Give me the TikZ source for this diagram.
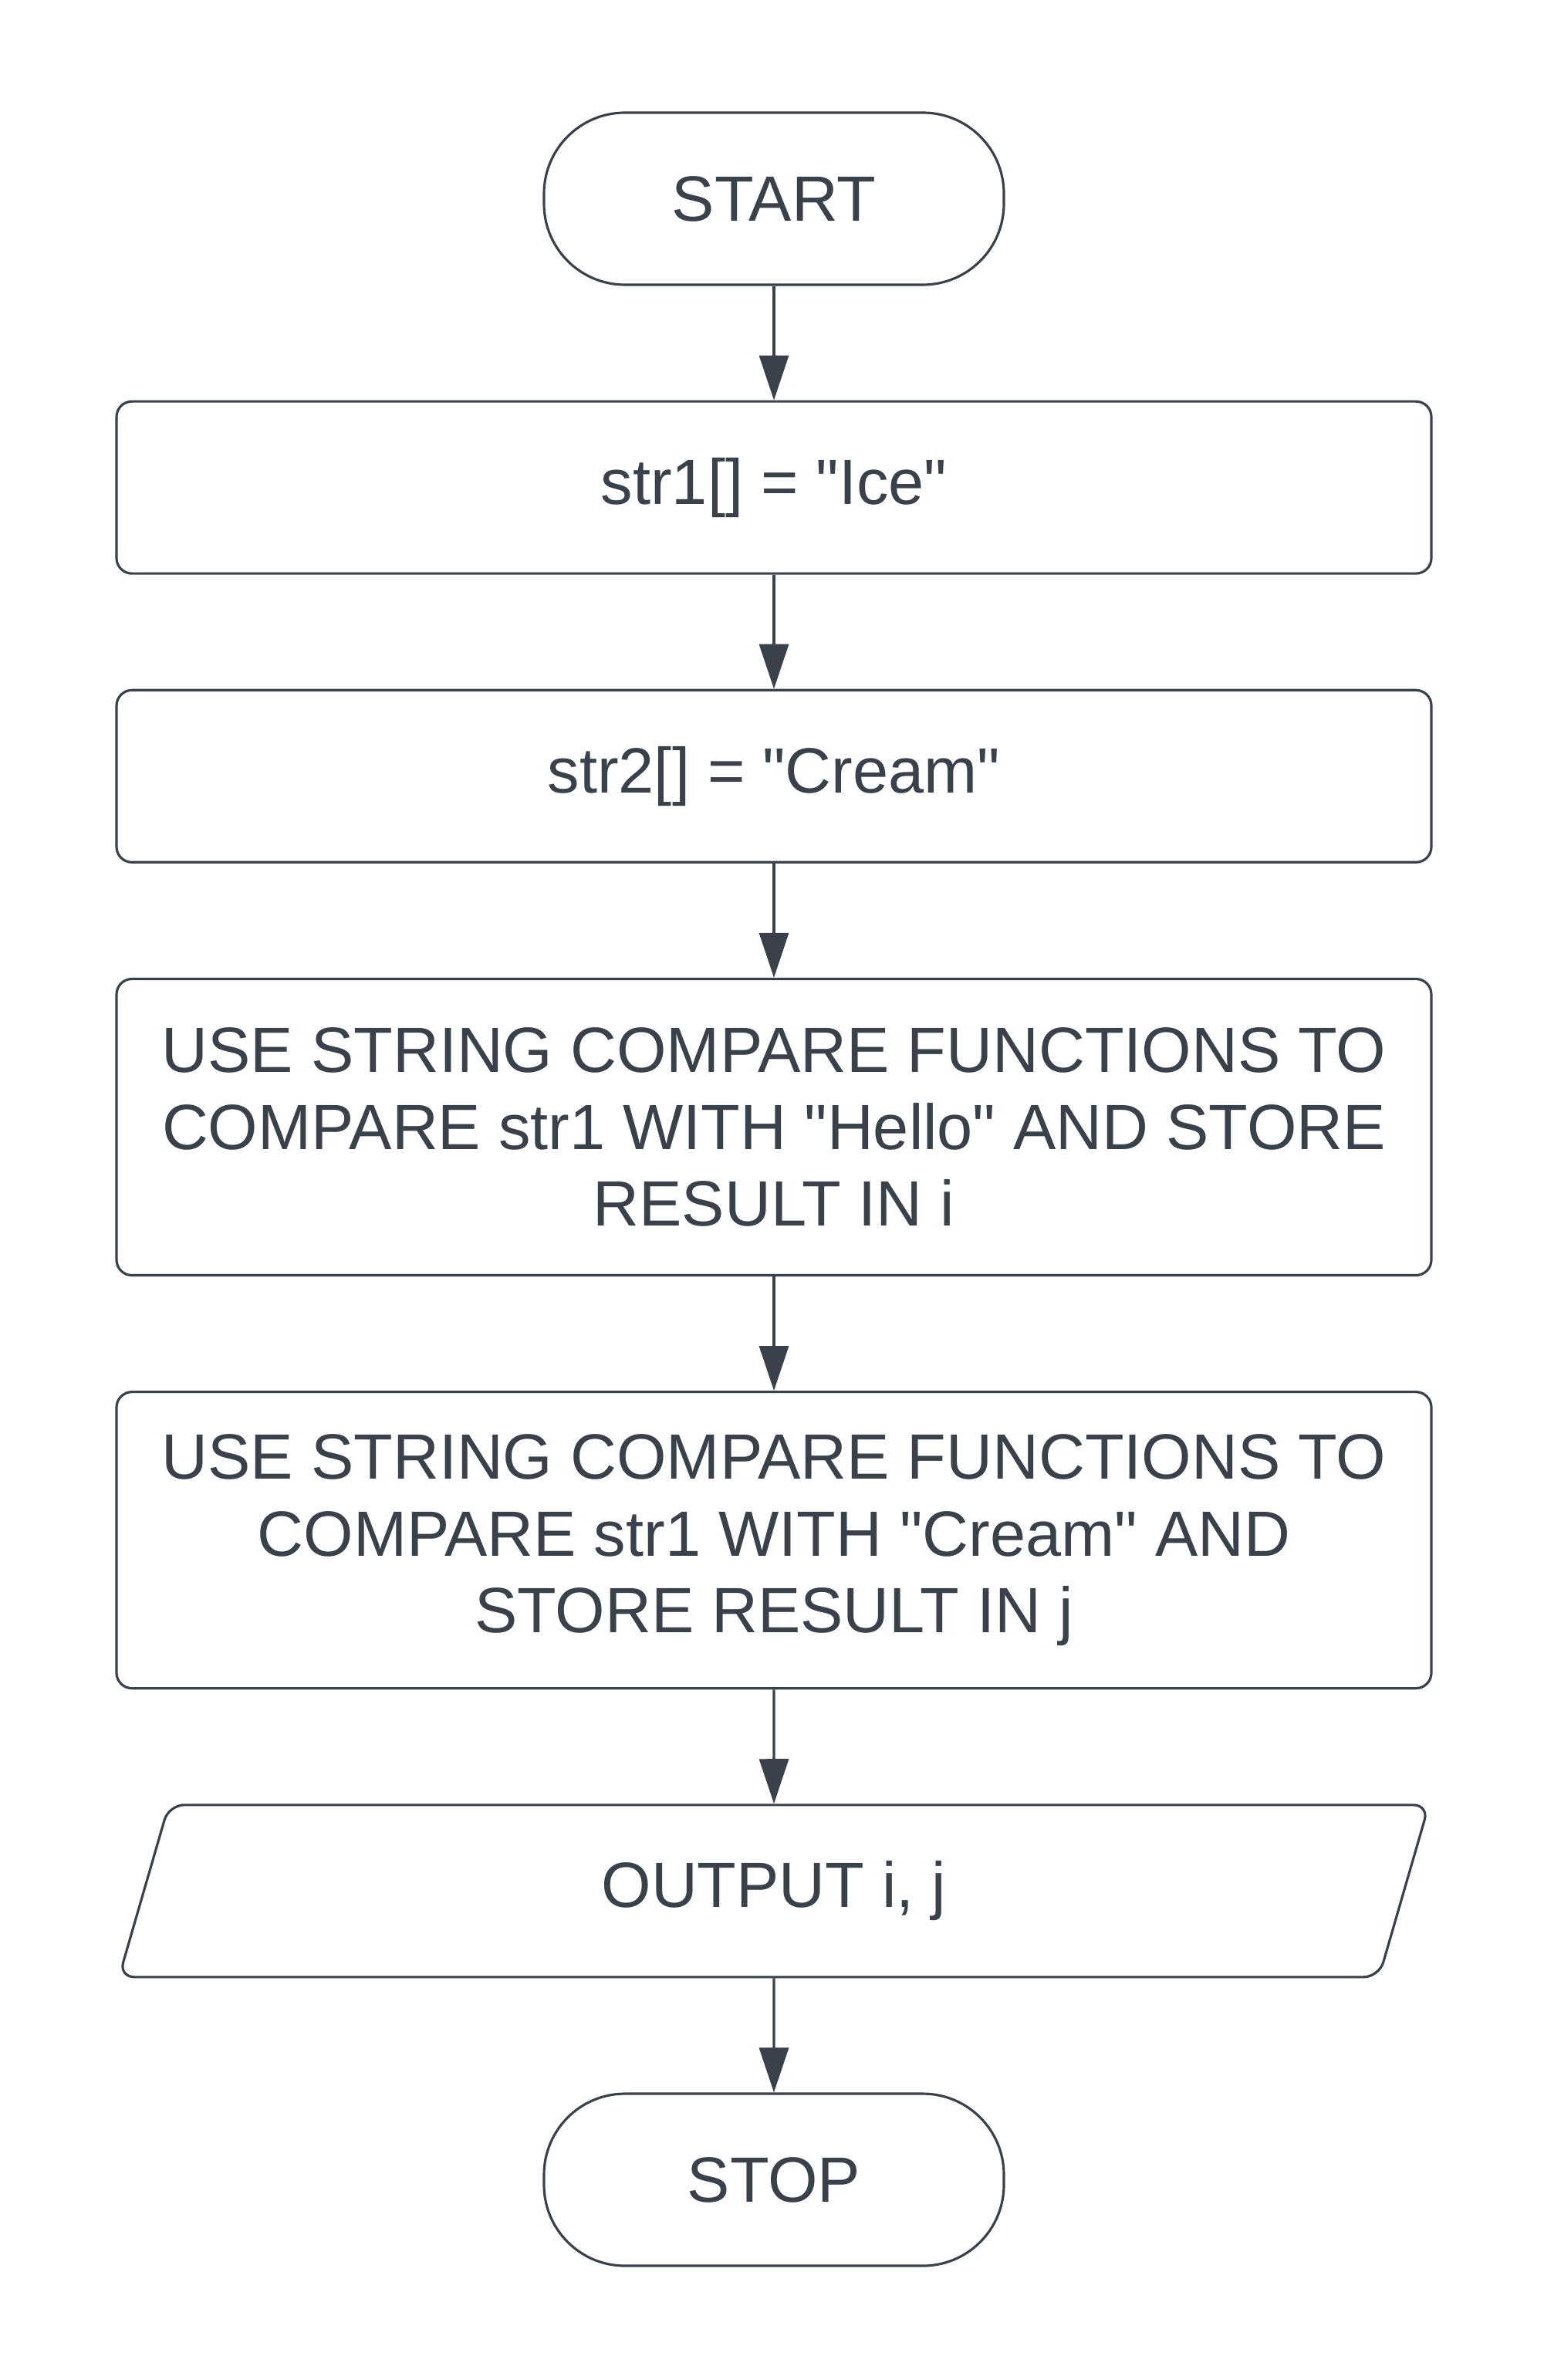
\documentclass[tikz,border=0pt]{standalone}
\usepackage{fontspec}
\setmainfont{Liberation Sans}[Ligatures=TeXOff]
\usepackage{tikz}
\usetikzlibrary{positioning, arrows.meta, shapes.geometric}
\definecolor{flowgray}{RGB}{58,65,74}
\tikzset{
    basenode/.style={
        draw=flowgray, line width=0.9pt, fill=white, text=flowgray,
        align=center, font=\fontsize{23.6}{28.2}\selectfont, inner sep=0pt
    },
    procnode/.style={
        basenode, rounded corners=0.2cm, minimum width=17.04cm, minimum height=2.23cm
    },
    ptr/.style={
        -{Triangle[length=0.58cm, width=0.38cm]}, line width=0.9pt, flowgray
    }
}

\begin{document}
\begin{tikzpicture}[
                % --- CAC STYLE ---
                % Bat dau / ket thuc
                termnode/.style={
                    basenode, rounded corners=1.05cm, minimum width=5.96cm, minimum height=2.23cm
                },
                % Nhap / xuat
                ionode/.style={
                    basenode, trapezium, trapezium stretches=true,
                    trapezium left angle=76.6, trapezium right angle=103.4,
                    rounded corners=0.2cm, minimum width=16.98cm, minimum height=2.23cm
                },
                node distance=1.48cm
            ]
                \useasboundingbox (0,0) rectangle (20,-30.84);

                % --- CAC KHOI ---
                \node[termnode] (start) at (10.03,-2.575) {START};
                \node[procnode, below=of start] (str1) {str1[] = "Ice"};
                \node[procnode, below=of str1] (str2) {str2[] = "Cream"};
                \node[procnode, minimum height=3.84cm, below=of str2] (cmpi)
                    {USE STRING COMPARE FUNCTIONS TO\\COMPARE str1 WITH "Hello" AND STORE\\RESULT IN i};
                \node[procnode, minimum height=3.84cm, below=of cmpi] (cmpj)
                    {USE STRING COMPARE FUNCTIONS TO\\COMPARE str1 WITH "Cream" AND\\STORE RESULT IN j};
                \node[ionode, below=of cmpj] (output) {OUTPUT i, j};
                \node[termnode, below=of output] (stop) {STOP};

                % --- MUI TEN ---
                \foreach \from/\to in {start/str1, str1/str2, str2/cmpi, cmpi/cmpj, cmpj/output, output/stop}
                    \draw[ptr] (\from) -- (\to);

            \end{tikzpicture}
\end{document}
